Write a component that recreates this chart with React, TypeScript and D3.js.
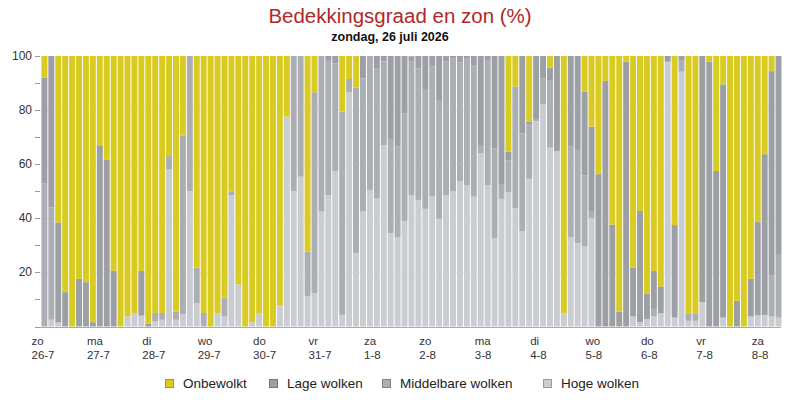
import React, { useRef, useEffect } from 'react';
import * as d3 from 'd3';

// 3-uurlijkse waarden, eerste balk = zo 26-7 03:00
const hoge = [0, 2.5, 1.5, 0, 0, 0, 0, 0, 0, 0, 0, 0, 3.7, 5, 4, 0, 2, 2.5, 58, 2.5, 4.5, 50, 8.6, 0, 0, 5, 3.7, 48.6, 15.6, 0, 1.6, 5, 0, 0, 7.8, 77.6, 50, 55.4, 11.1, 12.3, 42.5, 48.6, 57.5, 4.3, 86.6, 27.1, 42.5, 50.5, 47.4, 67.1, 34.5, 32.9, 39, 48.6, 46.8, 43.5, 48, 39.8, 48.6, 49.9, 53.8, 52.3, 48, 64, 52.3, 32.6, 47.2, 49.6, 43.7, 35.3, 54.6, 76, 82.1, 66.1, 64.9, 5, 32.9, 30.8, 29.6, 40, 0, 0, 0, 0, 0, 3.7, 1.6, 2.8, 3.7, 4.9, 97.9, 3.3, 94.2, 2.1, 2.1, 9, 0, 0, 3.3, 0, 0, 0, 3.7, 4.1, 4.3, 3.7, 3.3];
const middelbare = [53, 41.5, 0, 0, 0, 0, 0, 0, 0, 0, 0, 0, 0, 0, 0, 0, 3, 2.5, 5, 3, 66, 50, 13.2, 5, 0, 0, 7, 1.2, 0, 0, 0, 0, 0, 0, 0, 0, 50, 44.6, 16.6, 74.3, 57.5, 49.9, 39.8, 75.1, 4.9, 61.2, 49.2, 49.5, 48.1, 30.9, 34.5, 33.6, 39.8, 49.3, 48.6, 44, 48.4, 43.6, 49.3, 49.1, 43.8, 46.7, 48.4, 3.1, 46.2, 33.3, 5.2, 11.9, 45, 36.1, 20, 0.7, 9.6, 25, 0, 0, 33.6, 34.5, 26.2, 2.7, 0, 0, 0, 0, 0, 0, 0, 0, 2.8, 0, 0, 0, 4.3, 2.8, 2.8, 0, 0, 0, 0, 0, 0, 0, 0, 0, 0, 15.1, 23.2];
const lage = [39, 56, 37, 12.7, 0, 17.6, 16.4, 1.6, 67, 61.6, 20.6, 0, 0, 0, 16.5, 1, 0, 0, 0, 0, 0, 0, 0, 0, 0, 0, 0, 0, 0, 0, 0, 0, 0, 0, 0, 0, 0, 0, 0, 0, 0, 1.5, 2.7, 0, 0, 0, 8.3, 0, 4.5, 2, 31, 33.5, 21.2, 2, 4.6, 12.5, 3.6, 16.6, 2.1, 1, 2.4, 1, 3.6, 32.9, 1.5, 34.1, 47.6, 3.1, 0, 28.6, 1.2, 23.3, 8.3, 4.6, 35.1, 0, 33.5, 34.7, 31, 31.2, 56.3, 90.8, 37.6, 5.5, 97.9, 18.1, 41.1, 9.2, 14, 9.9, 2.1, 34.2, 1.5, 0, 0, 91, 97.9, 57.5, 86.2, 0, 9.5, 0, 13.9, 34.5, 59.4, 75.6, 73.5];
const onbewolkt = [8, 0, 61.5, 87.3, 100, 82.4, 83.6, 98.4, 33, 38.4, 79.4, 100, 96.3, 95, 79.5, 99, 95, 95, 37, 94.5, 29.5, 0, 78.2, 95, 100, 95, 89.3, 50.2, 84.4, 100, 98.4, 95, 100, 100, 92.2, 22.4, 0, 0, 72.3, 13.4, 0, 0, 0, 20.6, 8.5, 11.7, 0, 0, 0, 0, 0, 0, 0, 0, 0, 0, 0, 0, 0, 0, 0, 0, 0, 0, 0, 0, 0, 35.4, 11.3, 0, 24.2, 0, 0, 4.3, 0, 95, 0, 0, 13.2, 26.1, 43.7, 9.2, 62.4, 94.5, 2.1, 78.2, 57.3, 88, 79.5, 85.2, 0, 62.5, 0, 95.1, 95.1, 0, 2.1, 42.5, 10.5, 100, 90.5, 100, 82.4, 61.4, 36.3, 5.6, 0];

const dagen = ['zo', 'ma', 'di', 'wo', 'do', 'vr', 'za', 'zo', 'ma', 'di', 'wo', 'do', 'vr', 'za'];
const datums = ['26-7', '27-7', '28-7', '29-7', '30-7', '31-7', '1-8', '2-8', '3-8', '4-8', '5-8', '6-8', '7-8', '8-8'];
const yTicks = [20, 40, 60, 80, 100];

const series = [
  { key: 'hoge', label: 'Hoge wolken', color: '#c9cdd2' },
  { key: 'middelbare', label: 'Middelbare wolken', color: '#abaeb2' },
  { key: 'lage', label: 'Lage wolken', color: '#9c9fa3' },
  { key: 'onbewolkt', label: 'Onbewolkt', color: '#d9cb22' },
];
const legendOrder = ['onbewolkt', 'lage', 'middelbare', 'hoge'];

const FONT = '"Liberation Sans", Arial, sans-serif';

const CloudChart: React.FC = () => {
  const svgRef = useRef<SVGSVGElement>(null);

  useEffect(() => {
    const svg = d3.select(svgRef.current);
    svg.selectAll('*').remove();

    const width = 800;
    const height = 400;
    const plotLeft = 40;
    const plotRight = 781;
    const firstSlot = 1; // data begint om 03:00
    const slotsPerDay = 8;
    const nSlots = firstSlot + hoge.length;

    const rows = hoge.map((_, i) => ({
      slot: i + firstSlot,
      hoge: hoge[i],
      middelbare: middelbare[i],
      lage: lage[i],
      onbewolkt: onbewolkt[i],
    }));

    const x = d3.scaleBand<number>()
      .domain(d3.range(nSlots))
      .range([34.5, 781.5])
      .paddingInner(0.14)
      .paddingOuter(0);

    const y = d3.scaleLinear().domain([0, 100]).range([326.5, 56]);

    svg.append('rect').attr('width', width).attr('height', height).attr('fill', '#fff');

    // rasterlijnen
    svg.append('g')
      .selectAll('line')
      .data(yTicks)
      .enter()
      .append('line')
      .attr('x1', plotLeft)
      .attr('x2', plotRight)
      .attr('y1', d => Math.round(y(d)) + 0.5)
      .attr('y2', d => Math.round(y(d)) + 0.5)
      .attr('stroke', '#ececec');

    const stack = d3.stack<any>().keys(series.map(s => s.key));
    const stacked = stack(rows);

    const g = svg.append('g');
    stacked.forEach((layer, li) => {
      g.append('g')
        .attr('fill', series[li].color)
        .selectAll('rect')
        .data(layer)
        .enter()
        .append('rect')
        .attr('x', d => x(d.data.slot) ?? 0)
        .attr('width', x.bandwidth())
        .attr('y', d => y(d[1]))
        .attr('height', d => Math.max(0, y(d[0]) - y(d[1])));
    });

    // y-as: alleen streepjes
    const ya = svg.append('g');
    ya.selectAll('line.tick')
      .data(d3.range(0, 101, 10))
      .enter()
      .append('line')
      .attr('class', 'tick')
      .attr('x1', 35).attr('x2', 40)
      .attr('y1', d => Math.round(y(d)) + 0.5)
      .attr('y2', d => Math.round(y(d)) + 0.5)
      .attr('stroke', '#999');
    ya.selectAll('text')
      .data(yTicks)
      .enter()
      .append('text')
      .attr('x', 32)
      .attr('y', d => y(d) + 4)
      .attr('text-anchor', 'end')
      .attr('font-family', FONT)
      .attr('font-size', 12)
      .attr('fill', '#333')
      .text(d => d);

    // x-as
    svg.append('line')
      .attr('x1', plotLeft).attr('x2', plotRight)
      .attr('y1', 327.5).attr('y2', 327.5)
      .attr('stroke', '#aaa');

    const xl = svg.append('g')
      .attr('font-family', FONT)
      .attr('font-size', 11.5)
      .attr('fill', '#333');
    dagen.forEach((dag, i) => {
      const px = (x(i * slotsPerDay) ?? 0) - 3;
      xl.append('text').attr('x', px).attr('y', 345).text(dag);
      xl.append('text').attr('x', px).attr('y', 359).text(datums[i]);
    });

    // titel
    svg.append('text')
      .attr('x', 400)
      .attr('y', 23)
      .attr('text-anchor', 'middle')
      .attr('font-family', FONT)
      .attr('font-size', 20.5)
      .attr('fill', '#b02828')
      .text('Bedekkingsgraad en zon (%)');

    svg.append('text')
      .attr('x', 390)
      .attr('y', 41)
      .attr('text-anchor', 'middle')
      .attr('font-family', FONT)
      .attr('font-weight', 'bold')
      .attr('font-size', 12.5)
      .attr('fill', '#111')
      .text('zondag, 26 juli 2026');

    // legenda
    const legendX = [165, 269, 382, 543];
    const leg = svg.append('g').attr('font-family', FONT).attr('font-size', 13.5).attr('fill', '#222');
    legendOrder.forEach((key, i) => {
      const s = series.find(d => d.key === key)!;
      leg.append('rect')
        .attr('x', legendX[i] + 0.5)
        .attr('y', 379.5)
        .attr('width', 8)
        .attr('height', 8)
        .attr('fill', s.color)
        .attr('stroke', d3.color(s.color)!.darker(0.8).toString())
        .attr('stroke-width', 1);
      leg.append('text')
        .attr('x', legendX[i] + 18)
        .attr('y', 388)
        .text(s.label);
    });
  }, []);

  return <svg ref={svgRef} width={800} height={400} style={{ position: 'absolute', left: 0, top: 0 }} />;
};

export default function App() {
  return <CloudChart />;
}
